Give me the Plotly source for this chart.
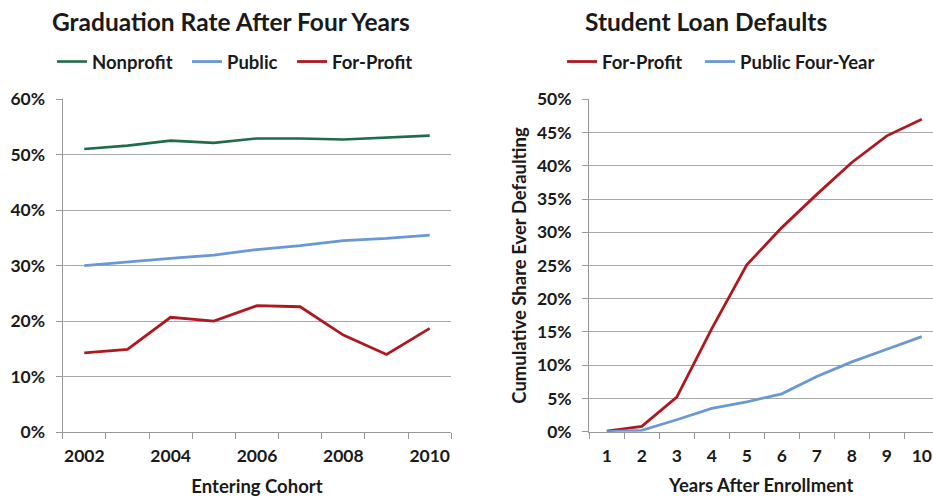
import plotly.graph_objects as go

# Graduation rate after four years, by entering cohort
cohorts = [2002, 2003, 2004, 2005, 2006, 2007, 2008, 2009, 2010]
cohort_labels = [2002, 2004, 2006, 2008, 2010]
grad_nonprofit = [0.510, 0.516, 0.525, 0.521, 0.529, 0.529, 0.527, 0.530, 0.534]
grad_public = [0.300, 0.307, 0.313, 0.319, 0.329, 0.336, 0.345, 0.349, 0.355]
grad_forprofit = [0.143, 0.149, 0.207, 0.200, 0.228, 0.226, 0.175, 0.140, 0.187]

# Cumulative share ever defaulting on student loans
years = [1, 2, 3, 4, 5, 6, 7, 8, 9, 10]
default_forprofit = [0.001, 0.008, 0.052, 0.155, 0.251, 0.307, 0.357, 0.405, 0.445, 0.470]
default_public4 = [0.000, 0.002, 0.018, 0.035, 0.045, 0.057, 0.083, 0.105, 0.124, 0.143]

GREEN = "#1F6B4B"
BLUE = "#6A98D4"
RED = "#AE1820"
GRID = "#A8A8A8"
AXIS = "#989898"
INK = "#1A1A1A"
FONT = "Lato"


def bold(size):
    return dict(family=FONT, size=size, color=INK, weight="bold")


fig = go.Figure()

# each series gets its own legend box so the entries sit where the chart places them
series = [
    (cohorts, grad_nonprofit, "Nonprofit", GREEN, 2.6, "x", "y", "legend"),
    (cohorts, grad_public, "Public", BLUE, 2.8, "x", "y", "legend2"),
    (cohorts, grad_forprofit, "For-Profit", RED, 2.8, "x", "y", "legend3"),
    (years, default_forprofit, "For-Profit", RED, 2.8, "x2", "y2", "legend4"),
    (years, default_public4, "Public Four-Year", BLUE, 2.8, "x2", "y2", "legend5"),
]
for xs, ys, name, color, width, xa, ya, leg in series:
    fig.add_trace(go.Scatter(x=xs, y=ys, name=name, mode="lines",
                             line=dict(color=color, width=width),
                             xaxis=xa, yaxis=ya, legend=leg, showlegend=True))

legend_x = {"legend": 0.0557, "legend2": 0.2004, "legend3": 0.313,
            "legend4": 0.6024, "legend5": 0.7503}
legends = {
    key: dict(orientation="h", x=x, y=0.876, xanchor="left", yanchor="middle",
              font=bold(18.5), bgcolor="rgba(0,0,0,0)", itemwidth=30)
    for key, x in legend_x.items()
}

tick_font = bold(17.5)

# category boundaries for the tick marks on each category axis
cohort_edges = [c - 0.5 for c in cohorts] + [cohorts[-1] + 0.5]
year_edges = [y - 0.5 for y in years] + [years[-1] + 0.5]

common_x = dict(showgrid=False, zeroline=False, showline=True, linecolor=AXIS, linewidth=1.3,
                ticks="", tickfont=tick_font, ticklabelstandoff=8, automargin=False,
                fixedrange=True)
common_y = dict(showgrid=True, gridcolor=GRID, gridwidth=1.3, zeroline=False, showline=True,
                linecolor=AXIS, linewidth=1.3, ticks="outside", ticklen=6, tickcolor=AXIS,
                tickwidth=1.3, tickfont=tick_font, tickformat=".0%", automargin=False,
                ticklabelstandoff=7, fixedrange=True)

fig.update_layout(
    width=933, height=500,
    margin=dict(l=0, r=0, t=0, b=0),
    paper_bgcolor="white", plot_bgcolor="white",
    font=dict(family=FONT, color=INK),
    showlegend=True,
    xaxis=dict(domain=[0.0672, 0.4837], range=[2001.5, 2010.5], anchor="y",
               tickmode="array", tickvals=cohort_labels,
               minor=dict(tickmode="array", tickvals=cohort_edges, ticks="outside", ticklen=6,
                          tickcolor=AXIS, tickwidth=1.3, showgrid=False),
               title=dict(text="Entering Cohort", standoff=14, font=bold(18.5)),
               **common_x),
    yaxis=dict(domain=[0.1355, 0.802], range=[0, 0.6], dtick=0.1, anchor="x", **common_y),
    xaxis2=dict(domain=[0.6316, 1.0], range=[0.5, 10.32], anchor="y2",
                tickmode="array", tickvals=years,
                minor=dict(tickmode="array", tickvals=year_edges, ticks="outside", ticklen=6,
                           tickcolor=AXIS, tickwidth=1.3, showgrid=False),
                title=dict(text="Years After Enrollment", standoff=14, font=bold(18.5)),
                **common_x),
    yaxis2=dict(domain=[0.1366, 0.8014], range=[0, 0.5], dtick=0.05, anchor="x2",
                title=dict(text="Cumulative Share Ever Defaulting", standoff=5, font=bold(18.5)),
                **common_y),
    annotations=[
        dict(text="Graduation Rate After Four Years", x=0.248, y=0.958, xref="paper",
             yref="paper", showarrow=False, xanchor="center", yanchor="middle",
             font=bold(24.5)),
        dict(text="Student Loan Defaults", x=0.757, y=0.958, xref="paper", yref="paper",
             showarrow=False, xanchor="center", yanchor="middle", font=bold(24.5)),
    ],
    **legends,
)

fig.write_html("out.html")
